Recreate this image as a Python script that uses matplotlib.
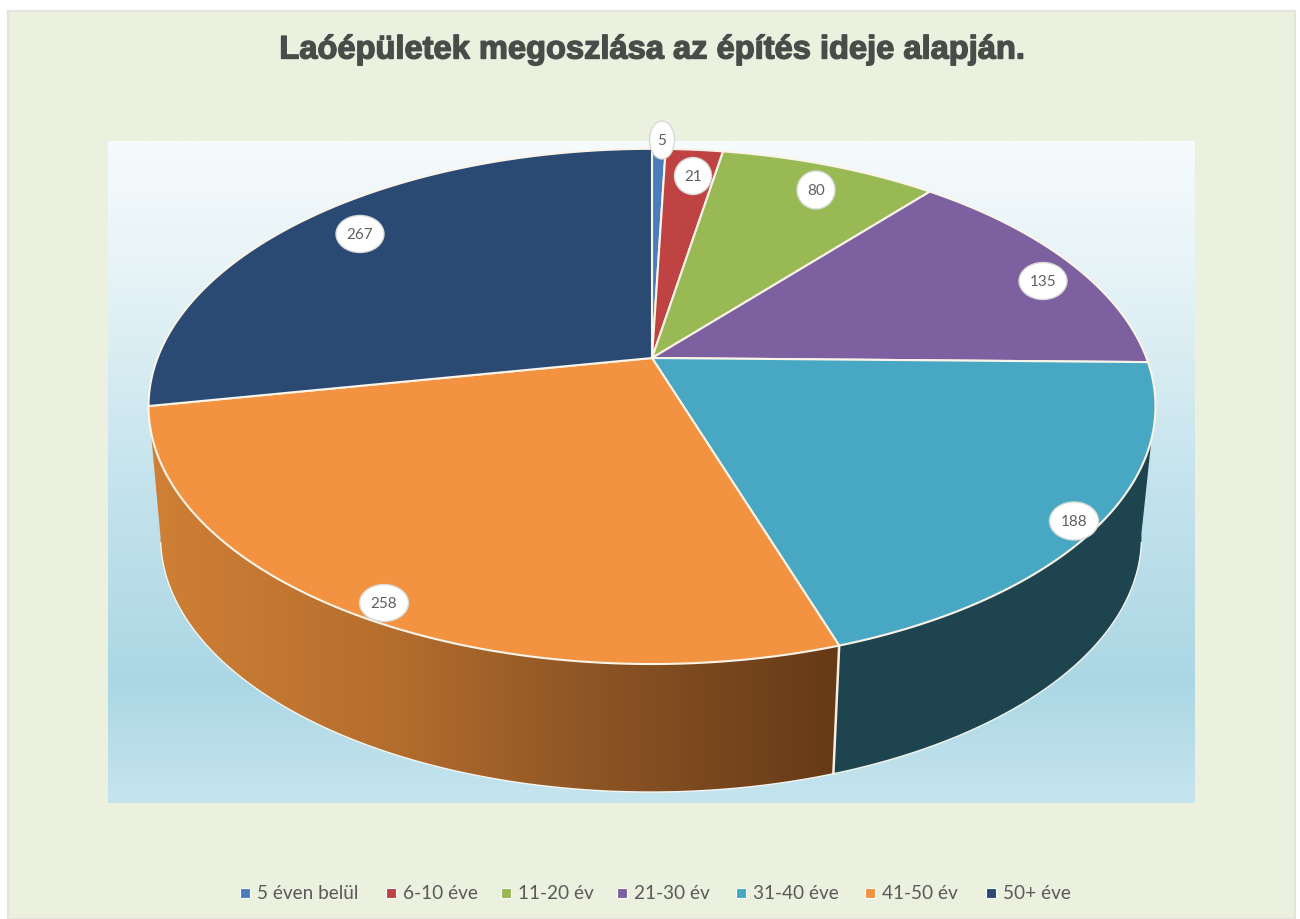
import numpy as np
import matplotlib
matplotlib.use('Agg')
import matplotlib.pyplot as plt
from matplotlib.patches import Polygon, Rectangle, Ellipse
from matplotlib.colors import LinearSegmentedColormap
import matplotlib.patheffects as pe

title = "Laóépületek megoszlása az építés ideje alapján."
categories = ['5 éven belül', '6-10 éve', '11-20 év', '21-30 év', '31-40 éve', '41-50 év', '50+ éve']
values = [5, 21, 80, 135, 188, 258, 267]
colors = ['#4a7ebb', '#bf4342', '#98b954', '#7d60a0', '#48a8c4', '#f39240', '#2a4a73']

# label bubbles: centre x, centre y, width, height (pixels)
bubble_x = [662, 693, 816, 1043, 1074, 384, 360]
bubble_y = [141, 177, 191, 282, 522, 604, 235]
bubble_w = [25, 37, 38, 48, 49, 49, 48]
bubble_h = [38, 37, 38, 37, 38, 37, 37]

# legend marker / text positions
legend_x = [245, 391, 506, 622, 741, 870, 991]

apex_x, apex_y = 652, 359
persp = 0.188


def top_point(theta, r=1.0):
    # theta in degrees, clockwise from 12 o'clock, perspective projection of the disc
    t = np.radians(theta)
    u = r * np.sin(t)
    v = -r * np.cos(t)
    w = 1 - persp * v
    return apex_x + 494.5 * u / w, apex_y + 248.5 * v / w


def bottom_point(theta):
    x, y = top_point(theta)
    return 651 + (490 / 503) * (x - 652), 538 + (255 / 258) * (y - 407)


def arc(func, a, b, n=120):
    xs, ys = func(np.linspace(a, b, n))
    return np.column_stack([xs, ys])


fig = plt.figure(figsize=(13, 9.2), dpi=100, facecolor='white')
ax = fig.add_axes([0, 0, 1, 1])

# chart background
ax.add_patch(Rectangle((8, 12), 1287, 908, fc='#ebf0df', ec='#e3e5dc', lw=1.5, zorder=0))

# plot area gradient
plot_cmap = LinearSegmentedColormap.from_list('plot', [
    (0.0, '#f6fbfc'), (0.2, '#e6f3f7'), (0.5, '#c6e4ed'), (0.82, '#abd7e4'), (1.0, '#c6e5ee')])
ax.imshow(np.linspace(0, 1, 256).reshape(-1, 1), cmap=plot_cmap, aspect='auto',
          extent=(108, 1195, 804, 142), zorder=1)

angles = np.concatenate([[0], np.cumsum(values)]) / np.sum(values) * 360

# side walls, orange one has the horizontal shading
orange_side = np.vstack([arc(top_point, angles[5], angles[6]), arc(bottom_point, angles[6], angles[5])])
side_cmap = LinearSegmentedColormap.from_list('side', ['#d08036', '#b76f2e', '#8a5324', '#663a17'])
grad = ax.imshow(np.linspace(0, 1, 256).reshape(1, -1), cmap=side_cmap, aspect='auto',
                 extent=(148, 838, 800, 400), zorder=2)
poly = Polygon(orange_side, closed=True, fc='none', ec='none', transform=ax.transData)
ax.add_patch(poly)
grad.set_clip_path(poly)

cyan_side = np.vstack([arc(top_point, 100, angles[5]), arc(bottom_point, angles[5], 100)])
ax.add_patch(Polygon(cyan_side, closed=True, fc='#1e444f', ec='none', zorder=2))

# outline of the lower rim and the corner between the walls
low = arc(bottom_point, 102, 258)
ax.plot(low[:, 0], low[:, 1], color='#f4f6f2', lw=1.0, zorder=3)
x0, y0 = top_point(angles[5])
x1, y1 = bottom_point(angles[5])
ax.plot([x0, x1], [y0, y1], color='#f7efe2', lw=1.8, zorder=3)

# top of the pie
for i, val in enumerate(values):
    pts = np.vstack([[apex_x, apex_y], arc(top_point, angles[i], angles[i + 1])])
    ax.add_patch(Polygon(pts, closed=True, fc=colors[i], ec='#fbf4e8', lw=1.5, joinstyle='round', zorder=4))

# data labels
for i, val in enumerate(values):
    ax.add_patch(Ellipse((bubble_x[i], bubble_y[i]), bubble_w[i], bubble_h[i], fc='white',
                         ec='#d8dad6', lw=1.0, zorder=5))
    ax.text(bubble_x[i], bubble_y[i], str(val), ha='center', va='center', fontsize=11,
            family='Lato', color='#606060', zorder=6)

# title with soft shadow
ax.text(652, 51, title, ha='center', va='center', fontsize=23.5, fontweight='bold',
        family='Liberation Sans', color='#4a4c4a', zorder=6,
        path_effects=[pe.withStroke(linewidth=1.0, foreground='#4a4c4a')])

# legend
for i, lab in enumerate(categories):
    ax.add_patch(Rectangle((legend_x[i] - 5, 889), 10, 10, fc=colors[i], ec='white', lw=0.8, zorder=5))
    ax.text(legend_x[i] + 12, 894, lab, ha='left', va='center', fontsize=13.7, family='Lato',
            color='#5a5a5a', zorder=6)

ax.set_xlim(0, 1300)
ax.set_ylim(920, 0)
ax.axis('off')

fig.savefig('out.png', dpi=100, facecolor=fig.get_facecolor())
